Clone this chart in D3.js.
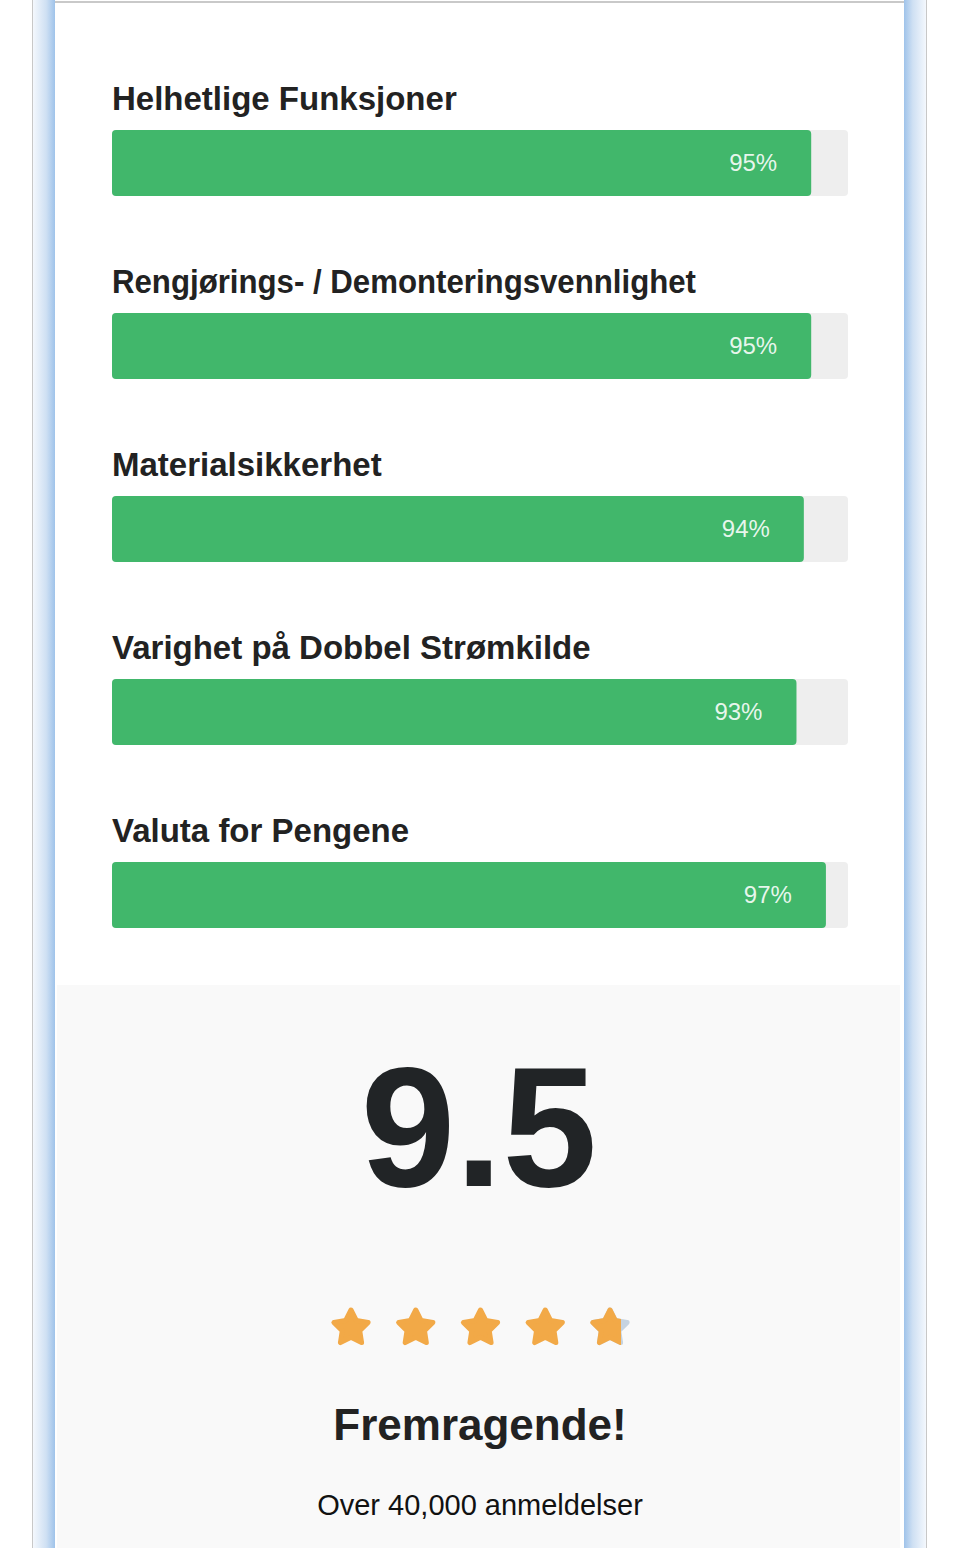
<!DOCTYPE html>
<html>
<head>
<meta charset="utf-8">
<script src="https://cdn.jsdelivr.net/npm/d3@7"></script>
<style>
  html, body { margin: 0; padding: 0; background: #fff; }
  svg { display: block; }
</style>
</head>
<body>
<div id="chart"></div>
<script>
// ─── Data ────────────────────────────────────────────────────────────────
const categories = [
  'Helhetlige Funksjoner',
  'Rengjørings- / Demonteringsvennlighet',
  'Materialsikkerhet',
  'Varighet på Dobbel Strømkilde',
  'Valuta for Pengene'
];
const scores = [95, 95, 94, 93, 97];
const overallScore = 9.5;
const maxScore = 10;
const starCount = 5;
const verdict = 'Fremragende!';
const reviewNote = 'Over 40,000 anmeldelser';

// ─── Layout ──────────────────────────────────────────────────────────────
const W = 960, H = 1548;
const panel = { left: 55, right: 904, splitY: 985 };
const rowStep = 183, firstLabelY = 110, barOffset = 20, barH = 66;
const maxLabelW = 584; // long labels get squeezed to this width

const svg = d3.select('#chart').append('svg')
  .attr('width', W).attr('height', H);

const defs = svg.append('defs');
function sideGradient(id, dark) {
  const g = defs.append('linearGradient').attr('id', id)
    .attr('x1', 0).attr('x2', 1).attr('y1', 0).attr('y2', 0);
  const stops = dark === 'right'
    ? [['0%', '#f4f8fd'], ['60%', '#cfe0f3'], ['100%', '#9fc3ea']]
    : [['0%', '#9fc3ea'], ['40%', '#cfe0f3'], ['100%', '#f4f8fd']];
  stops.forEach(([o, c]) => g.append('stop').attr('offset', o).attr('stop-color', c));
}
sideGradient('leftBorder', 'right');
sideGradient('rightBorder', 'left');

// window frame
svg.append('rect').attr('x', 32).attr('y', 0).attr('width', 1).attr('height', H).attr('fill', '#c8c8c8');
svg.append('rect').attr('x', 33).attr('y', 0).attr('width', 22).attr('height', H).attr('fill', 'url(#leftBorder)');
svg.append('rect').attr('x', 904).attr('y', 0).attr('width', 22).attr('height', H).attr('fill', 'url(#rightBorder)');
svg.append('rect').attr('x', 926).attr('y', 0).attr('width', 1).attr('height', H).attr('fill', '#c8c8c8');

// panels
svg.append('rect').attr('x', panel.left).attr('y', 0)
  .attr('width', panel.right - panel.left).attr('height', panel.splitY).attr('fill', '#ffffff');
svg.append('rect').attr('x', panel.left + 2).attr('y', panel.splitY)
  .attr('width', panel.right - panel.left - 6).attr('height', H - panel.splitY).attr('fill', '#f9f9f9');
svg.append('line').attr('x1', panel.left).attr('x2', panel.right).attr('y1', 2).attr('y2', 2)
  .attr('stroke', '#c9c9c9').attr('stroke-width', 2);

// ─── Bars ────────────────────────────────────────────────────────────────
const x = d3.scaleLinear().domain([0, 100]).range([112, 848]);
const font = '"Liberation Sans", Arial, Helvetica, sans-serif';

const rows = svg.selectAll('.row')
  .data(categories.map((c, i) => ({ label: c, value: scores[i], i })))
  .join('g')
  .attr('class', 'row')
  .attr('transform', d => `translate(0, ${firstLabelY + d.i * rowStep})`);

rows.append('text')
  .attr('x', x(0)).attr('y', 0)
  .attr('font-family', font).attr('font-weight', 'bold').attr('font-size', 33)
  .attr('fill', '#222')
  .text(d => d.label)
  .each(function () {
    if (this.getComputedTextLength() > maxLabelW) {
      d3.select(this).attr('textLength', maxLabelW).attr('lengthAdjust', 'spacingAndGlyphs');
    }
  });

rows.append('rect')
  .attr('x', x(0)).attr('y', barOffset)
  .attr('width', x(100) - x(0)).attr('height', barH)
  .attr('rx', 4).attr('fill', '#eeeeee');

rows.append('rect')
  .attr('x', x(0)).attr('y', barOffset)
  .attr('width', d => x(d.value) - x(0)).attr('height', barH)
  .attr('rx', 4).attr('fill', '#41b76b');

rows.append('text')
  .attr('x', d => x(d.value) - 34).attr('y', barOffset + barH / 2)
  .attr('dy', '0.35em').attr('text-anchor', 'end')
  .attr('font-family', font).attr('font-size', 24)
  .attr('fill', '#ffffff').attr('fill-opacity', 0.88)
  .text(d => d.value + '%');

// ─── Summary ─────────────────────────────────────────────────────────────
svg.append('text')
  .attr('x', 479).attr('y', 1186).attr('text-anchor', 'middle')
  .attr('font-family', font).attr('font-weight', 'bold').attr('font-size', 170)
  .attr('fill', '#212426')
  .text(overallScore.toFixed(1));

// stars: plump 5-point star, rounded by a thick round-joined stroke
const starValue = overallScore / maxScore * starCount;
const sx = d3.scaleLinear().domain([0, starCount - 1]).range([351, 610]);
const starY = 1328;
const outerR = 18, innerR = 9.2;
const starPts = d3.range(10).map(k => {
  const r = k % 2 ? innerR : outerR;
  const a = -Math.PI / 2 + k * Math.PI / 5;
  return [r * Math.cos(a), r * Math.sin(a)];
});
const starPath = d3.line().curve(d3.curveLinearClosed)(starPts);
const half = outerR + 4;

const stars = svg.selectAll('.star')
  .data(d3.range(starCount))
  .join('g')
  .attr('class', 'star')
  .attr('transform', i => `translate(${sx(i)}, ${starY})`);

stars.each(function (i) {
  const g = d3.select(this);
  const fill = Math.max(0, Math.min(1, starValue - i));
  if (fill < 1) {
    const clipId = 'starClip' + i;
    defs.append('clipPath').attr('id', clipId)
      .append('rect').attr('x', -half).attr('y', -half)
      .attr('width', fill * 2 * half).attr('height', 2 * half);
    g.append('path').attr('d', starPath)
      .attr('fill', '#c6d3e0').attr('stroke', '#c6d3e0')
      .attr('stroke-width', 5).attr('stroke-linejoin', 'round');
    g.append('path').attr('d', starPath)
      .attr('fill', '#f2a947').attr('stroke', '#f2a947')
      .attr('stroke-width', 5).attr('stroke-linejoin', 'round')
      .attr('clip-path', `url(#${clipId})`);
  } else {
    g.append('path').attr('d', starPath)
      .attr('fill', '#f2a947').attr('stroke', '#f2a947')
      .attr('stroke-width', 5).attr('stroke-linejoin', 'round');
  }
});

svg.append('text')
  .attr('x', 480).attr('y', 1440).attr('text-anchor', 'middle')
  .attr('font-family', font).attr('font-weight', 'bold').attr('font-size', 44)
  .attr('fill', '#222')
  .text(verdict);

svg.append('text')
  .attr('x', 480).attr('y', 1515).attr('text-anchor', 'middle')
  .attr('font-family', font).attr('font-size', 29)
  .attr('fill', '#111')
  .text(reviewNote);
</script>
</body>
</html>
